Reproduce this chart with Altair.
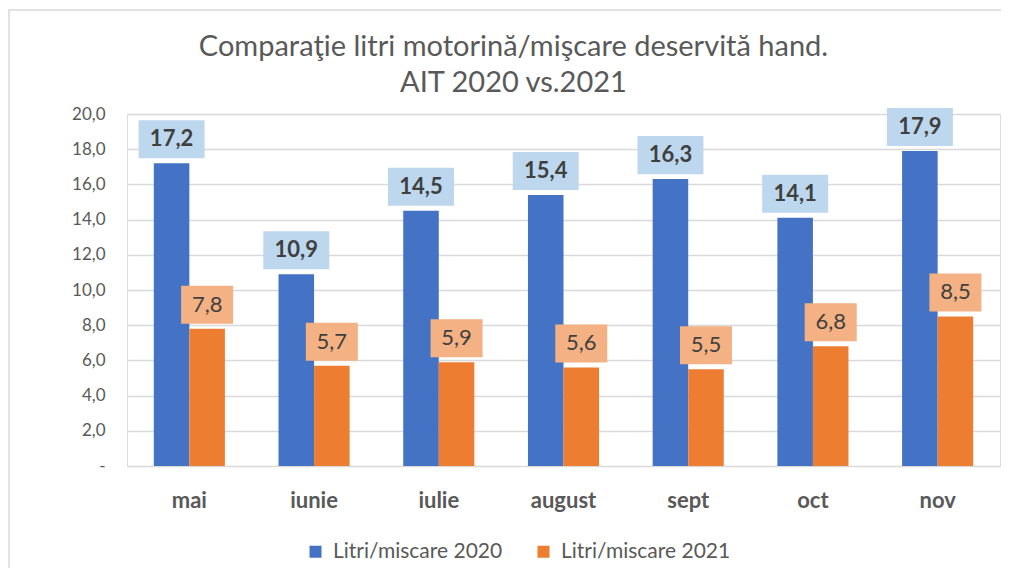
import altair as alt
import pandas as pd

months = ["mai", "iunie", "iulie", "august", "sept", "oct", "nov"]
series = ["Litri/miscare 2020", "Litri/miscare 2021"]
values_2020 = [17.2, 10.9, 14.5, 15.4, 16.3, 14.1, 17.9]
values_2021 = [7.8, 5.7, 5.9, 5.6, 5.5, 6.8, 8.5]
y_ticks = [0, 2, 4, 6, 8, 10, 12, 14, 16, 18, 20]
title_lines = ["Comparaţie litri motorină/mişcare deservită hand.", "AIT 2020 vs.2021"]

rows = []
for m, v in zip(months, values_2020):
    rows.append({"month": m, "series": series[0], "value": v, "label": f"{v:.1f}".replace(".", ",")})
for m, v in zip(months, values_2021):
    rows.append({"month": m, "series": series[1], "value": v, "label": f"{v:.1f}".replace(".", ",")})
df = pd.DataFrame(rows)

FONT = "Lato"
GREY = "#595959"

x_enc = alt.X("month:N", sort=months,
              scale=alt.Scale(paddingInner=0.43, paddingOuter=0.215),
              axis=alt.Axis(title=None, labelFont=FONT, labelFontSize=22, labelFontWeight="bold",
                            labelColor=GREY, labelPadding=24, ticks=False, domain=False,
                            labelAngle=0))
xo_enc = alt.XOffset("series:N", sort=series)
y_enc = alt.Y("value:Q", scale=alt.Scale(domain=[0, 20], nice=False),
              axis=alt.Axis(title=None, values=y_ticks, labelFont=FONT, labelFontSize=17,
                            labelColor=GREY, labelPadding=22, ticks=False, domain=False,
                            gridColor="#D9D9D9", gridWidth=1.3,
                            labelExpr="datum.value == 0 ? '-  ' : replace(format(datum.value, '.1f'), '.', ',')"))

base = alt.Chart(df)

bars = base.mark_bar().encode(
    x=x_enc, xOffset=xo_enc, y=y_enc,
    color=alt.Color("series:N", sort=series,
                    scale=alt.Scale(domain=series, range=["#4472C4", "#ED7D31"]),
                    legend=alt.Legend(title=None, orient="none", direction="horizontal",
                                      legendX=178, legendY=427, symbolType="square",
                                      symbolSize=144, symbolStrokeWidth=0,
                                      labelFont=FONT, labelFontSize=21, labelColor=GREY,
                                      labelLimit=400, columnPadding=30, labelOffset=7)),
)

blue_box = base.transform_filter(alt.datum.series == series[0]).mark_point(
    shape="M-1,-0.576L1,-0.576L1,0.576L-1,0.576Z", size=4356, filled=True,
    color="#BDD7EE", opacity=1, yOffset=-24,
).encode(x=x_enc, xOffset=xo_enc, y=y_enc)

orange_box = base.transform_filter(alt.datum.series == series[1]).mark_point(
    shape="M-1,-0.731L1,-0.731L1,0.731L-1,0.731Z", size=2704, filled=True,
    color="#F4B183", opacity=1, yOffset=-24,
).encode(x=x_enc, xOffset=xo_enc, y=y_enc)

blue_text = base.transform_filter(alt.datum.series == series[0]).mark_text(
    font=FONT, fontSize=22, fontWeight="bold", color="#404040", baseline="middle",
    yOffset=-24,
).encode(x=x_enc, xOffset=xo_enc, y=y_enc, text="label:N")

orange_text = base.transform_filter(alt.datum.series == series[1]).mark_text(
    font=FONT, fontSize=22, fontWeight="normal", color="#404040", baseline="middle",
    yOffset=-24,
).encode(x=x_enc, xOffset=xo_enc, y=y_enc, text="label:N")

border = alt.Chart(pd.DataFrame({"a": [0]})).mark_rect(
    fill=None, stroke="#D9D9D9", strokeWidth=1.5
).encode(x=alt.value(-118), x2=alt.value(900), y=alt.value(-104), y2=alt.value(480))

chart = alt.layer(border, bars, blue_box, orange_box, blue_text, orange_text).properties(
    width=873, height=352,
    title=alt.Title(text=title_lines, font=FONT, fontSize=29, fontWeight="normal", color=GREY,
                    anchor="middle", frame="group", dx=-50, dy=109, offset=20, lineHeight=36),
    autosize=alt.AutoSizeParams(type="none"),
    padding={"left": 119, "top": 106, "right": 1, "bottom": 102},
).configure_view(stroke=None).configure(background="white")

chart.save("out.html", embed_options={"renderer": "svg", "actions": False})
